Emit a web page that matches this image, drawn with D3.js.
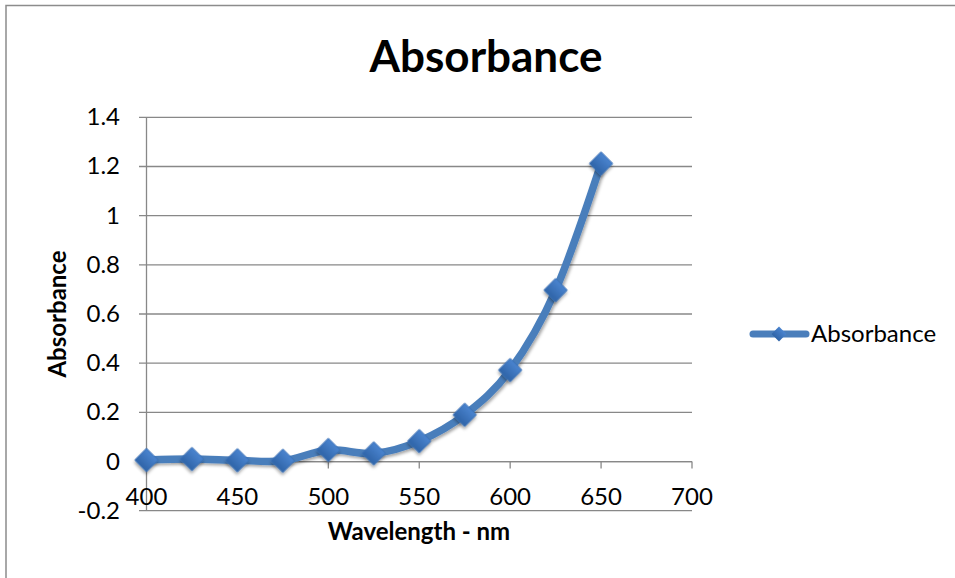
<!DOCTYPE html>
<html>
<head>
<meta charset="utf-8">
<script src="https://cdn.jsdelivr.net/npm/d3@7"></script>
<style>
  body { margin: 0; background: #fff; }
  text { font-family: Lato, "Open Sans", sans-serif; fill: #000; }
</style>
</head>
<body>
<div id="chart"></div>
<script>
// Wavelength (nm) and measured absorbance
var wavelengths = [400, 425, 450, 475, 500, 525, 550, 575, 600, 625, 650];
var absorbance  = [0.006, 0.01, 0.005, 0.003, 0.047, 0.033, 0.083, 0.19, 0.372, 0.697, 1.212];
var xTicks = [400, 450, 500, 550, 600, 650, 700];
var yTicks = [-0.2, 0, 0.2, 0.4, 0.6, 0.8, 1, 1.2, 1.4];

var w = 955, h = 578;
var svg = d3.select("#chart").append("svg")
    .attr("width", w)
    .attr("height", h);

// chart frame (left and top visible)
svg.append("path")
    .attr("d", "M6,578 L6,5.5 L955,5.5")
    .attr("fill", "none")
    .attr("stroke", "#8c8c8c")
    .attr("stroke-width", 1.5);

var x = d3.scaleLinear().domain([400, 700]).range([146.5, 692]);
var y = d3.scaleLinear().domain([-0.2, 1.4]).range([510.7, 117.3]);

// gridlines
svg.append("g").selectAll("line")
    .data(yTicks)
    .enter().append("line")
    .attr("x1", 139).attr("x2", x(700))
    .attr("y1", function(d) { return y(d); })
    .attr("y2", function(d) { return y(d); })
    .attr("stroke", "#888")
    .attr("stroke-width", 1.3);

// y axis line
svg.append("line")
    .attr("x1", x(400)).attr("x2", x(400))
    .attr("y1", y(1.4)).attr("y2", y(-0.2))
    .attr("stroke", "#888").attr("stroke-width", 1.3);

// x axis line sits at zero, ticks point down
svg.append("line")
    .attr("x1", x(400)).attr("x2", x(700))
    .attr("y1", y(0)).attr("y2", y(0))
    .attr("stroke", "#888").attr("stroke-width", 1.3);

svg.append("g").selectAll("line")
    .data(xTicks)
    .enter().append("line")
    .attr("x1", function(d) { return x(d); })
    .attr("x2", function(d) { return x(d); })
    .attr("y1", y(0)).attr("y2", y(0) + 7)
    .attr("stroke", "#888").attr("stroke-width", 1.3);

// tick labels
svg.append("g").selectAll("text")
    .data(yTicks)
    .enter().append("text")
    .attr("x", 120)
    .attr("y", function(d) { return y(d) + 8; })
    .attr("text-anchor", "end")
    .style("font-size", "24px")
    .text(function(d) { return String(d); });

svg.append("g").selectAll("text")
    .data(xTicks)
    .enter().append("text")
    .attr("x", function(d) { return x(d); })
    .attr("y", 505)
    .attr("text-anchor", "middle")
    .style("font-size", "24px")
    .text(function(d) { return d; });

// titles
svg.append("text")
    .attr("x", 486).attr("y", 72)
    .attr("text-anchor", "middle")
    .style("font-size", "44px").style("font-weight", "bold")
    .text("Absorbance");

svg.append("text")
    .attr("x", 419).attr("y", 540)
    .attr("text-anchor", "middle")
    .style("font-size", "24px").style("font-weight", "bold")
    .text("Wavelength - nm");

svg.append("text")
    .attr("transform", "translate(66,314) rotate(-90)")
    .attr("text-anchor", "middle")
    .style("font-size", "24px").style("font-weight", "bold")
    .text("Absorbance");

// marker styling: gradient + soft shadow
var defs = svg.append("defs");
var grad = defs.append("linearGradient")
    .attr("id", "mk").attr("x1", "0%").attr("y1", "0%").attr("x2", "0%").attr("y2", "100%");
grad.append("stop").attr("offset", "0%").attr("stop-color", "#4a84cf");
grad.append("stop").attr("offset", "100%").attr("stop-color", "#2f64a8");

var shadow = defs.append("filter").attr("id", "sh")
    .attr("x", "-50%").attr("y", "-50%").attr("width", "200%").attr("height", "200%");
shadow.append("feDropShadow")
    .attr("dx", 1.5).attr("dy", 2).attr("stdDeviation", 1.5)
    .attr("flood-color", "#000").attr("flood-opacity", 0.35);

var pts = wavelengths.map(function(d, i) { return [d, absorbance[i]]; });

var line = d3.line()
    .x(function(d) { return x(d[0]); })
    .y(function(d) { return y(d[1]); })
    .curve(d3.curveCardinal.tension(0));

svg.append("path")
    .datum(pts)
    .attr("d", line)
    .attr("fill", "none")
    .attr("stroke", "#4a7ebb")
    .attr("stroke-width", 7.5)
    .attr("stroke-linecap", "round")
    .attr("filter", "url(#sh)");

var diamond = d3.symbol().type(d3.symbolSquare).size(270);

svg.append("g").selectAll("path")
    .data(pts)
    .enter().append("path")
    .attr("d", diamond)
    .attr("transform", function(d) { return "translate(" + x(d[0]) + "," + y(d[1]) + ") rotate(45)"; })
    .attr("fill", "url(#mk)")
    .attr("stroke", "#3a70b5")
    .attr("stroke-width", 0.8)
    .attr("filter", "url(#sh)");

// legend
var lg = svg.append("g").attr("transform", "translate(750,334)");
lg.append("line")
    .attr("x1", 3).attr("x2", 56)
    .attr("y1", 0).attr("y2", 0)
    .attr("stroke", "#4a7ebb").attr("stroke-width", 7)
    .attr("stroke-linecap", "round");
lg.append("path")
    .attr("d", d3.symbol().type(d3.symbolSquare).size(110))
    .attr("transform", "translate(29,0) rotate(45)")
    .attr("fill", "url(#mk)");
lg.append("text")
    .attr("x", 61).attr("y", 8)
    .style("font-size", "24px")
    .text("Absorbance");
</script>
</body>
</html>
